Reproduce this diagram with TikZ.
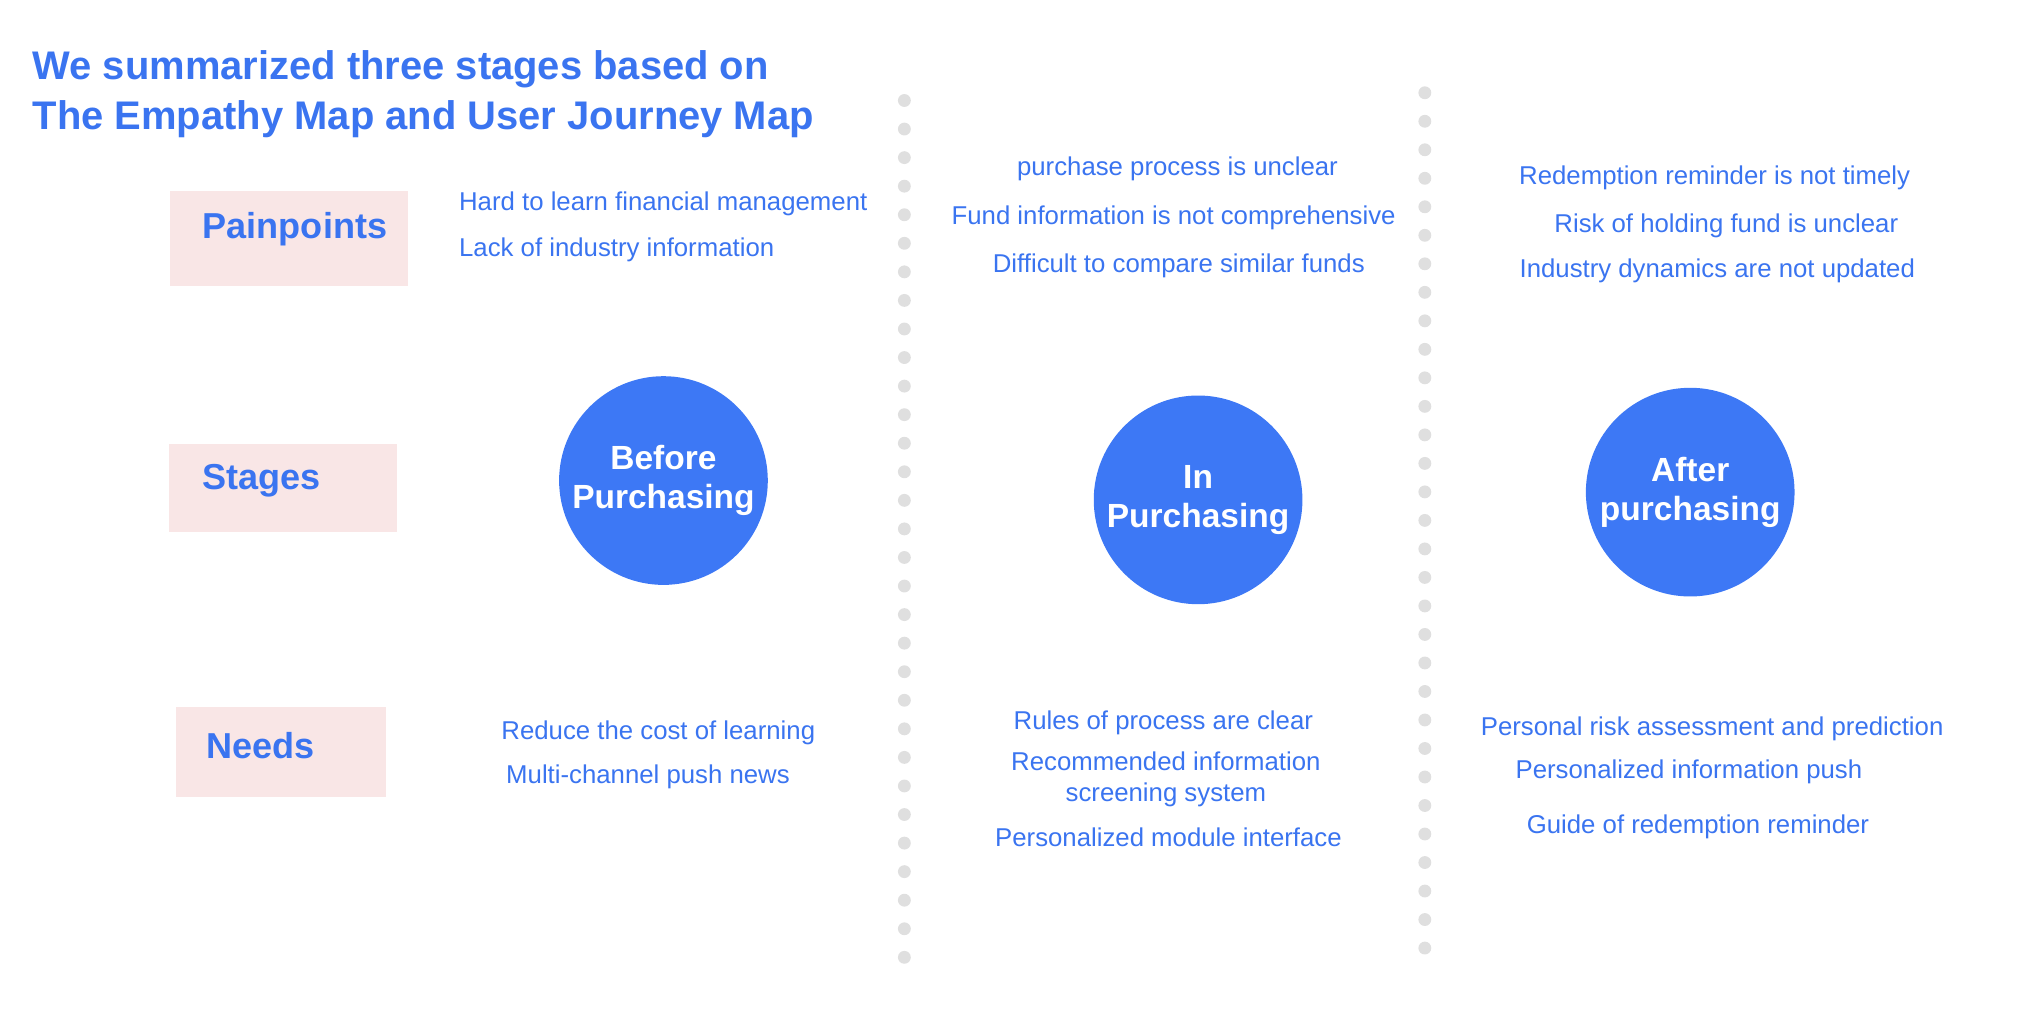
\documentclass[tikz,border=0pt]{standalone}
\usepackage{fontspec}
\setmainfont{Liberation Sans}
\begin{document}
\begin{tikzpicture}[x=0.5pt,y=-0.5pt,
  every node/.style={inner sep=0pt},
  txt/.style={text=blu,font=\fontsize{10}{12}\selectfont},
  lab/.style={text=blu,font=\fontsize{14}{16}\selectfont\bfseries,anchor=west},
  box/.style={fill=pnk,draw=none},
  stage/.style={circle,fill=circ,minimum size=81pt,text=white,align=center,font=\fontsize{13}{15}\selectfont\bfseries},
  dot/.style={circle,fill=gray!25,minimum size=5pt}]
\definecolor{blu}{HTML}{3A74F0}
\definecolor{circ}{HTML}{3D78F5}
\definecolor{pnk}{HTML}{F9E6E6}
\useasboundingbox (0,0) rectangle (1568,789);
\node[anchor=west,text=blu,font=\fontsize{15.5}{19.5}\selectfont\bfseries,align=left] (title) at (25,73) {We summarized three stages based on\\The Empathy Map and User Journey Map};
\fill[pnk] (132,148) rectangle (317,222);
\fill[pnk] (131,345) rectangle (308,413);
\fill[pnk] (137,549) rectangle (300,619);
\node[lab] (pp) at (157,178) {Painpoints};
\node[lab] (st) at (157,373) {Stages};
\node[lab] (nd) at (160,579) {Needs};
\foreach \i in {0,...,30} \node[dot] (da\i) at (702,78+22.17*\i) {};
\foreach \i in {0,...,30} \node[dot] (db\i) at (1106,72+22.13*\i) {};
\node[stage] (c1) at (515,373) {Before\\Purchasing};
\node[stage] (c2) at (930,388) {In\\Purchasing};
\node[stage] (c3) at (1312,382) {After\\purchasing};
\node[txt,anchor=west] (p11) at (356,158) {Hard to learn financial management};
\node[txt,anchor=west] (p12) at (356,194) {Lack of industry information};
\node[txt] (n11) at (511,569) {Reduce the cost of learning};
\node[txt] (n12) at (503,603) {Multi-channel push news};
\node[txt] (p21) at (914,131) {purchase process is unclear};
\node[txt] (p22) at (911,169) {Fund information is not comprehensive};
\node[txt] (p23) at (915,206) {Difficult to compare similar funds};
\node[txt] (n21) at (903,561) {Rules of process are clear};
\node[txt,align=center,font=\fontsize{10}{12}\selectfont] (n22) at (905,605) {Recommended information\\screening system};
\node[txt] (n23) at (907,650) {Personalized module interface};
\node[txt] (p31) at (1331,138) {Redemption reminder is not timely};
\node[txt] (p32) at (1340,175) {Risk of holding fund is unclear};
\node[txt] (p33) at (1333,210) {Industry dynamics are not updated};
\node[txt] (n31) at (1329,566) {Personal risk assessment and prediction};
\node[txt] (n32) at (1311,599) {Personalized information push};
\node[txt] (n33) at (1318,642) {Guide of redemption reminder};
\end{tikzpicture}
\end{document}
